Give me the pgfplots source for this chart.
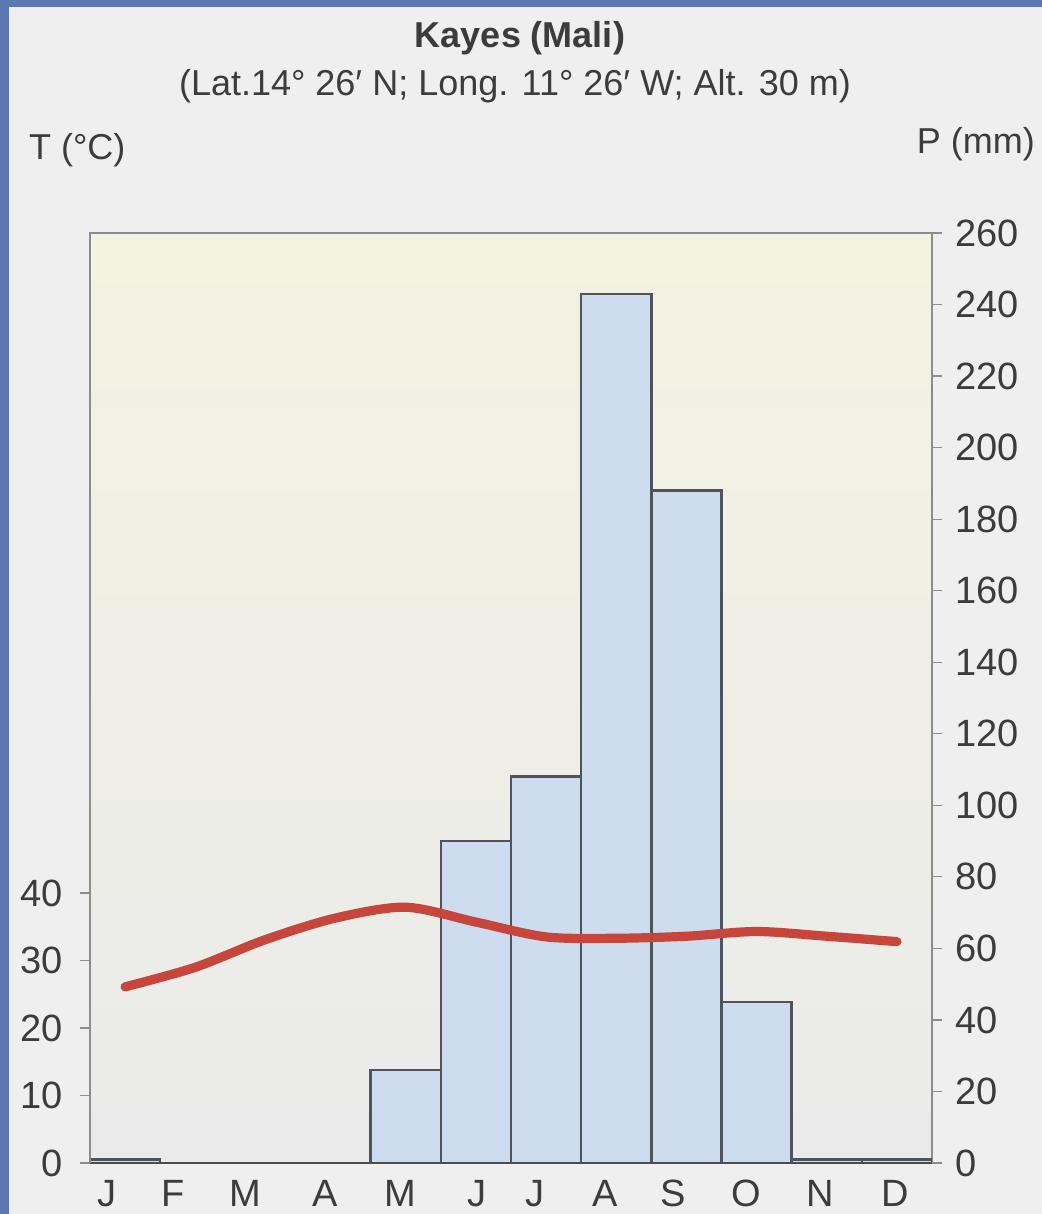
\documentclass[border=0pt]{standalone}
\usepackage{fontspec}
\setmainfont{Liberation Sans}
\usepackage{pgfplots}
\pgfplotsset{compat=1.18}

\definecolor{slide}{HTML}{5B78B5}
\definecolor{page}{HTML}{EFEFF0}
\definecolor{cream}{HTML}{F3F3E2}
\definecolor{plotgrey}{HTML}{EAEAEA}
\definecolor{framegrey}{HTML}{8C8C8C}
\definecolor{txt}{HTML}{3C3C3C}
\definecolor{barblue}{HTML}{CEDCEF}
\definecolor{bardark}{HTML}{4E535C}
\definecolor{tempred}{HTML}{C7463B}

\newcommand{\tickfont}{\fontsize{19}{19}\selectfont}

\begin{document}
\begin{tikzpicture}
\useasboundingbox (0pt,0pt) rectangle (521pt,607pt);
\fill[slide] (0pt,0pt) rectangle (521pt,607pt);
\fill[page] (4.5pt,0pt) rectangle (521pt,603.5pt);
\coordinate (ax) at (45pt,25.5pt);

\node[txt, font=\fontsize{18}{18}\selectfont\bfseries] at (260pt,588pt) {Kayes (Mali)};
\node[txt, font=\fontsize{18}{18}\selectfont] at (257.5pt,564pt) {(Lat.14° 26′ N; Long. 11° 26′ W; Alt. 30 m)};
\node[txt, font=\fontsize{18}{18}\selectfont, anchor=west] at (11pt,532pt) {T (°C)};
\node[txt, font=\fontsize{18}{18}\selectfont, anchor=east] at (521pt,535pt) {P (mm)};

% precipitation (right axis)
\begin{axis}[
  at={(ax)}, anchor=south west,
  scale only axis, width=421pt, height=465pt,
  xmin=0, xmax=12, ymin=0, ymax=260,
  axis background/.style={shade, top color=cream, middle color=cream!60!plotgrey, bottom color=plotgrey},
  axis line style={framegrey, line width=0.7pt},
  xtick=\empty,
  ytick={0,20,...,260},
  ytick pos=right, yticklabel pos=right,
  tick align=outside, major tick length=5pt,
  tick style={framegrey, line width=0.6pt},
  yticklabel style={font=\tickfont, text=txt, xshift=3pt},
  /pgf/number format/assume math mode=true,
  ybar, bar width=1,
]
\addplot[fill=barblue, draw=bardark, line width=1.2pt] coordinates {
  (0.5,1) (1.5,0) (2.5,0) (3.5,0) (4.5,26) (5.5,90)
  (6.5,108) (7.5,243) (8.5,188) (9.5,45) (10.5,1) (11.5,1)};
\end{axis}

% temperature (left axis)
\begin{axis}[
  at={(ax)}, anchor=south west,
  scale only axis, width=421pt, height=465pt,
  xmin=0, xmax=12, ymin=0, ymax=137.8,
  axis x line*=bottom, axis y line*=left,
  x axis line style={-, black!70, line width=1.1pt},
  y axis line style={-, framegrey, line width=0.7pt},
  xtick={0.24,1.18,2.21,3.35,4.42,5.52,6.34,7.34,8.31,9.36,10.40,11.47},
  xticklabels={J,F,M,A,M,J,J,A,S,O,N,D},
  x tick style={draw=none},
  ytick={0,10,20,30,40},
  tick align=outside, major tick length=5pt,
  y tick style={framegrey, line width=0.6pt},
  xticklabel style={font=\tickfont, text=txt},
  yticklabel style={font=\tickfont, text=txt, xshift=-5pt},
  /pgf/number format/assume math mode=true,
]
\addplot[smooth, draw=tempred, line width=4.6pt, line cap=round, no marks] coordinates {
  (0.5,26.1) (1.5,29.0) (2.5,33.1) (3.5,36.3) (4.5,37.9) (5.5,35.7)
  (6.5,33.5) (7.5,33.3) (8.5,33.6) (9.5,34.3) (10.5,33.6) (11.5,32.8)};
\end{axis}
\end{tikzpicture}
\end{document}
